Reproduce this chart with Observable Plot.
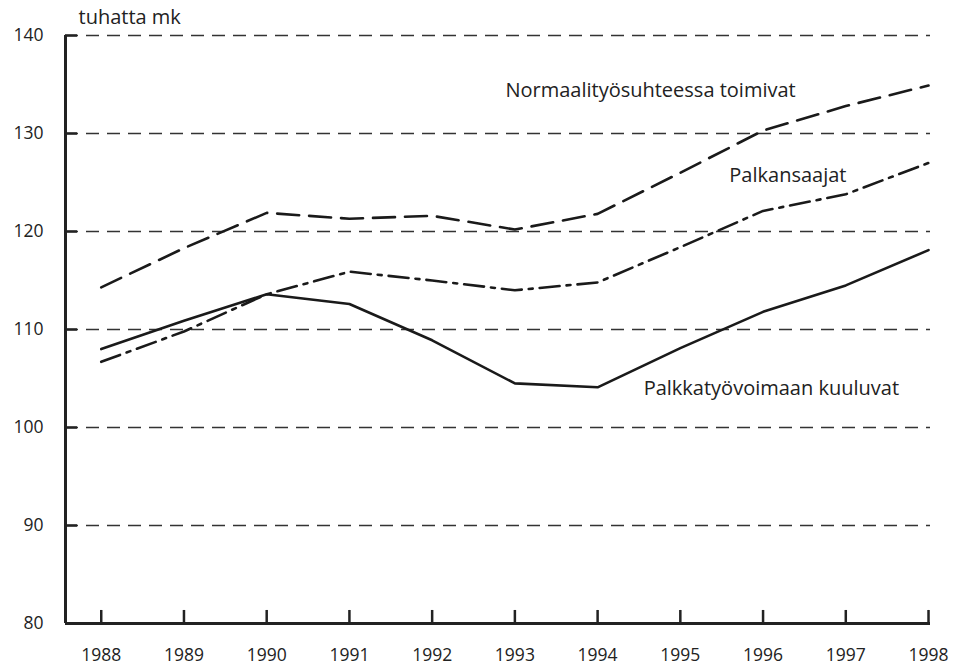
<!DOCTYPE html>
<html>
<head>
<meta charset="utf-8">
<script src="https://cdn.jsdelivr.net/npm/d3@7"></script>
<script src="https://cdn.jsdelivr.net/npm/@observablehq/plot@0.6"></script>
<style>
  html, body { margin: 0; padding: 0; background: #fff; }
  #chart { width: 956px; height: 672px; }
</style>
</head>
<body>
<div id="chart"></div>
<script>
const years = [1988, 1989, 1990, 1991, 1992, 1993, 1994, 1995, 1996, 1997, 1998];
const normaali = [114.3, 118.3, 121.9, 121.3, 121.6, 120.2, 121.8, 126.0, 130.3, 132.8, 134.9];
const palkansaajat = [106.7, 109.8, 113.6, 115.9, 115.0, 114.0, 114.8, 118.4, 122.1, 123.8, 127.0];
const palkkatyo = [108.0, 110.9, 113.6, 112.6, 108.9, 104.5, 104.1, 108.1, 111.8, 114.5, 118.1];
const yTicks = [80, 90, 100, 110, 120, 130, 140];
const gridTicks = [90, 100, 110, 120, 130, 140];
const unitLabel = "tuhatta mk";
const seriesLabels = [
  {text: "Normaalityösuhteessa toimivat", year: 1994.64, value: 134.4},
  {text: "Palkansaajat", year: 1996.3, value: 125.7},
  {text: "Palkkatyövoimaan kuuluvat", year: 1996.1, value: 104.0}
];

const toRows = (vals) => years.map((y, i) => ({year: y, value: vals[i]}));
const font = "'Open Sans', sans-serif";
const X0 = 1987.568, X1 = 1998.024;

const chart = Plot.plot({
  width: 956,
  height: 672,
  marginTop: 35,
  marginBottom: 49,
  marginLeft: 65,
  marginRight: 26,
  style: {fontFamily: font, fontSize: "17px", color: "#222", background: "#fff"},
  x: {domain: [X0, X1]},
  y: {domain: [80, 140]},
  marks: [
    Plot.ruleY(gridTicks, {y: d => d, x1: X0, x2: X1, stroke: "#333", strokeWidth: 1.3, strokeDasharray: "13,8"}),
    Plot.axisY(yTicks, {tickSize: 0, tickPadding: 22, fontSize: 17.5, label: null}),
    Plot.axisX(years, {tickSize: 0, tickPadding: 25, fontSize: 17.5, tickFormat: d => String(d), label: null}),
    Plot.ruleX(years, {x: d => d, y1: 80, y2: 81.33, stroke: "#222", strokeWidth: 2.5}),
    Plot.ruleY(yTicks, {y: d => d, x1: X0, x2: X0 + 0.145, stroke: "#222", strokeWidth: 2.5}),
    Plot.ruleX([X0], {x: d => d, y1: 80, y2: 140, stroke: "#222", strokeWidth: 3}),
    Plot.ruleY([80], {y: d => d, x1: X0, x2: X1, stroke: "#222", strokeWidth: 3}),
    Plot.line(toRows(normaali), {x: "year", y: "value", stroke: "#1a1a1a", strokeWidth: 2.6, strokeDasharray: "22,10"}),
    Plot.line(toRows(palkansaajat), {x: "year", y: "value", stroke: "#1a1a1a", strokeWidth: 2.6, strokeDasharray: "20,7,4,7"}),
    Plot.line(toRows(palkkatyo), {x: "year", y: "value", stroke: "#1a1a1a", strokeWidth: 2.6}),
    Plot.text(seriesLabels, {x: "year", y: "value", text: "text", fontSize: 20, fill: "#222", textAnchor: "middle"}),
    Plot.text([unitLabel], {x: X0, y: 140, text: d => d, dx: 13, dy: -18, fontSize: 20, fill: "#222", textAnchor: "start"})
  ]
});
document.getElementById("chart").appendChild(chart);
</script>
</body>
</html>
